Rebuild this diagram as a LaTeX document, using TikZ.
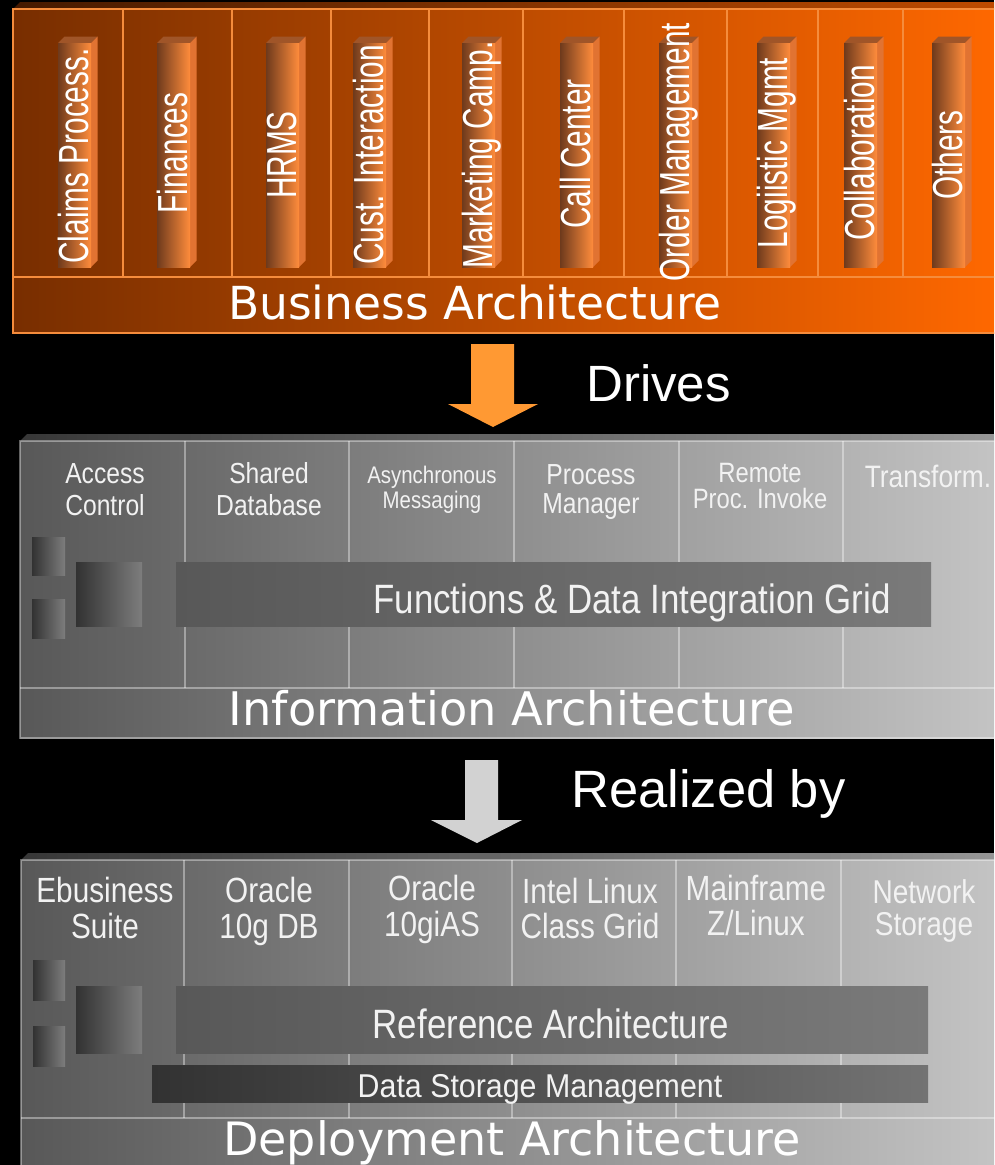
\documentclass[tikz,border=0pt]{standalone}
\usepackage{fontspec}
\setmainfont{Liberation Sans}
\newfontfamily\widefont{DejaVu Sans}
\newfontfamily\narA[FakeStretch=0.71]{Liberation Sans}
\newfontfamily\narB[FakeStretch=0.85]{Liberation Sans}
\newfontfamily\narC[FakeStretch=0.92]{Liberation Sans}
\definecolor{bizL}{RGB}{120,46,0}
\definecolor{bizR}{RGB}{255,104,0}
\definecolor{bizTopL}{RGB}{70,26,0}
\definecolor{bizTopR}{RGB}{190,75,0}
\definecolor{bizLine}{RGB}{245,140,60}
\definecolor{pilL}{RGB}{110,58,28}
\definecolor{pilR}{RGB}{255,140,60}
\definecolor{pilSide}{RGB}{225,115,50}
\definecolor{pilTop}{RGB}{160,85,40}
\definecolor{orArrow}{RGB}{255,153,51}
\definecolor{gL}{RGB}{88,88,88}
\definecolor{gR}{RGB}{196,196,196}
\definecolor{gTopL}{RGB}{55,55,55}
\definecolor{gTopR}{RGB}{150,150,150}
\definecolor{barL}{RGB}{88,88,88}
\definecolor{barR}{RGB}{122,122,122}
\definecolor{sqL}{RGB}{50,50,50}
\definecolor{sqR}{RGB}{125,125,125}
\definecolor{dsL}{RGB}{50,50,50}
\definecolor{dsR}{RGB}{115,115,115}
\definecolor{grArrow}{RGB}{210,210,210}
\definecolor{txt}{RGB}{242,242,242}
\tikzset{
  bizline/.style={draw=bizLine, line width=1.5pt},
  gline/.style={draw=white, draw opacity=0.38, line width=1.5pt},
  pillartext/.style={rotate=90, anchor=base, text=white, inner sep=0pt,
    font=\narA\fontsize{42}{42}\selectfont},
  title/.style={anchor=base, text=white, inner sep=0pt,
    font=\widefont\fontsize{45.8}{50}\selectfont},
  verb/.style={anchor=base west, text=white, inner sep=0pt,
    font=\fontsize{51}{55}\selectfont},
  lab/.style={anchor=base, text=txt, inner sep=0pt, align=center},
  bartext/.style={anchor=base, text=txt, inner sep=0pt},
}
\newcommand\pillar[4]{%
  \fill[pilTop] (#1,43) -- ++(33,0) -- ++(6.5,-6.5) -- ++(-33,0) -- cycle;
  \fill[pilSide] (#1+33,43) -- ++(6.5,-6.5) -- ++(0,224) -- ++(-6.5,6.5) -- cycle;
  \shade[left color=pilL, right color=pilR] (#1,43) rectangle ++(33,224);
  \node[pillartext] (#2) at (#1+30.5,#4) {#3};
}
\begin{document}
\begin{tikzpicture}[x=1pt,y=-1pt]
\useasboundingbox (0,0) rectangle (994,1165);
\fill[black] (0,0) rectangle (994,1165);
\clip (0,0) rectangle (994,1165);

% ---------------- Business Architecture ----------------
\shade[left color=bizTopL, right color=bizTopR] (13,9) -- (20,2) -- (1000,2) -- (1000,9) -- cycle;
\shade[left color=bizL, right color=bizR] (13,9) rectangle (1000,333);
\draw[bizline] (13,9) rectangle (1000,333);
\draw[bizline] (13,277) -- (1000,277);
\foreach \x in {123,232,331,429,523,624,727,818,903}
  \draw[bizline] (\x,9) -- (\x,277);
\pillar{58}{p1}{Claims Process.}{156}
\pillar{157}{p2}{Finances}{153}
\pillar{266}{p3}{HRMS}{155}
\pillar{353}{p4}{Cust. Interaction}{155}
\pillar{462}{p5}{Marketing Camp.}{155}
\pillar{560}{p6}{Call Center}{154}
\pillar{659}{p7}{Order Management}{152}
\pillar{757}{p8}{Logiistic Mgmt}{153}
\pillar{844}{p9}{Collaboration}{153}
\pillar{932}{p10}{Others}{155}
\node[title, font=\widefont\fontsize{45.5}{50}\selectfont] (biz) at (475,319) {Business Architecture};

% ---------------- Drives arrow ----------------
\fill[orArrow] (471,344) -- (514,344) -- (514,404) -- (538,404) -- (493,427) -- (448,404) -- (471,404) -- cycle;
\node[verb] (drives) at (586,401) {Drives};

% ---------------- Information Architecture ----------------
\shade[left color=gTopL, right color=gTopR] (20,441) -- (27,434) -- (1000,434) -- (1000,441) -- cycle;
\shade[left color=gL, right color=gR] (20,441) rectangle (1000,738);
\draw[gline] (20,441) rectangle (1000,738);
\draw[gline] (20,688) -- (1000,688);
\foreach \x in {185,349,514,679,843}
  \draw[gline] (\x,441) -- (\x,688);
\shade[left color=sqL, right color=sqR] (32,537) rectangle (65,575);
\shade[left color=sqL, right color=sqR] (32,599) rectangle (65,638);
\shade[left color=sqL, right color=sqR] (76,562) rectangle (142,626);
\shade[left color=barL, right color=barR] (176,562) rectangle (931,626);
\node[lab, font=\narB\fontsize{29}{32}\selectfont] (acc) at (105,515) {Access\\Control};
\node[lab, font=\narB\fontsize{29}{32}\selectfont] (shd) at (269,515) {Shared\\Database};
\node[lab, font=\narB\fontsize{24}{25}\selectfont] (asy) at (432,508) {Asynchronous\\Messaging};
\node[lab, font=\narB\fontsize{29}{29}\selectfont] (prm) at (591,513) {Process\\Manager};
\node[lab, font=\narB\fontsize{28}{26}\selectfont] (rpc) at (760,508) {Remote\\Proc. Invoke};
\node[lab, font=\narB\fontsize{31}{31}\selectfont] (trf) at (928,487) {Transform.};
\node[bartext, font=\narB\fontsize{41}{41}\selectfont] (fdi) at (632,613) {Functions \& Data Integration Grid};
\node[title, font=\widefont\fontsize{46.3}{50}\selectfont] (inf) at (512,725) {Information Architecture};

% ---------------- Realized by arrow ----------------
\fill[grArrow] (465,760) -- (498,760) -- (498,820) -- (522,820) -- (477,843) -- (431,820) -- (465,820) -- cycle;
\node[verb, font=\fontsize{52.5}{55}\selectfont] (real) at (571,807) {Realized by};

% ---------------- Deployment Architecture ----------------
\shade[left color=gTopL, right color=gTopR] (21,860) -- (28,853) -- (1000,853) -- (1000,860) -- cycle;
\shade[left color=gL, right color=gR] (21,860) rectangle (1000,1180);
\draw[gline] (21,860) rectangle (1000,1180);
\draw[gline] (21,1118) -- (1000,1118);
\foreach \x in {184,349,512,676,841}
  \draw[gline] (\x,860) -- (\x,1118);
\shade[left color=sqL, right color=sqR] (33,960) rectangle (65,1000);
\shade[left color=sqL, right color=sqR] (33,1026) rectangle (65,1066);
\shade[left color=sqL, right color=sqR] (76,986) rectangle (142,1053);
\shade[left color=barL, right color=barR] (176,986) rectangle (928,1053);
\shade[left color=dsL, right color=dsR] (152,1065) rectangle (928,1102);
\node[lab, font=\narB\fontsize{35}{36}\selectfont] (ebs) at (105,938) {Ebusiness\\Suite};
\node[lab, font=\narB\fontsize{35}{36}\selectfont] (odb) at (269,938) {Oracle\\10g DB};
\node[lab, font=\narB\fontsize{35}{36}\selectfont] (oas) at (432,936) {Oracle\\10giAS};
\node[lab, font=\narB\fontsize{35}{35}\selectfont] (ilc) at (590,938) {Intel Linux\\Class Grid};
\node[lab, font=\narB\fontsize{35}{35}\selectfont] (mfz) at (756,935) {Mainframe\\Z/Linux};
\node[lab, font=\narB\fontsize{33}{32}\selectfont] (nws) at (924,935) {Network\\Storage};
\node[bartext, font=\narB\fontsize{41}{41}\selectfont] (ref) at (551,1038) {Reference Architecture};
\node[bartext, font=\narC\fontsize{33}{33}\selectfont] (dsm) at (540,1097) {Data Storage Management};
\node[title, font=\widefont\fontsize{46}{50}\selectfont] (dep) at (512,1155) {Deployment Architecture};
\end{tikzpicture}
\end{document}
